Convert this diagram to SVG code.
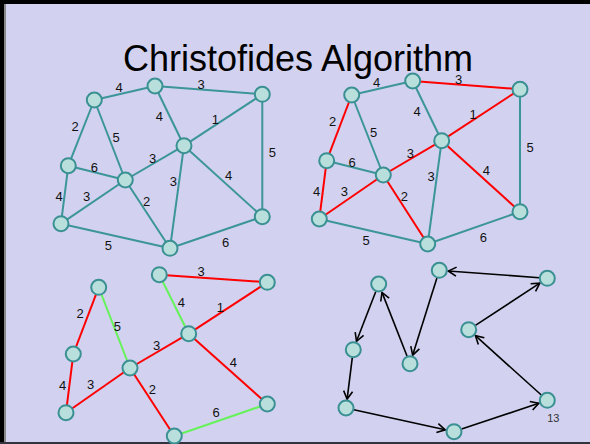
<svg xmlns="http://www.w3.org/2000/svg" width="590" height="444" viewBox="0 0 590 444">
<style>
.bg{fill:#D2D2F0}
.n{fill:#B8DFDC;stroke:#3A9093;stroke-width:2}
.e{stroke:#3C9598;stroke-width:2;fill:none}
.r{stroke:#FF0000;stroke-width:2;fill:none}
.g{stroke:#66F25A;stroke-width:2;fill:none}
.a{stroke:#000;stroke-width:1.6;fill:none;marker-end:url(#arr)}
.l{font-family:"Liberation Sans",Arial,sans-serif;font-size:13px;fill:#111;text-anchor:middle;dominant-baseline:central}
.t{font-family:"Liberation Sans",Arial,sans-serif;font-size:36px;fill:#000;text-anchor:middle}
</style>
<defs>
<marker id="arr" markerUnits="userSpaceOnUse" markerWidth="12" markerHeight="12" refX="10" refY="6" orient="auto">
<path d="M2,1.5 L10,6 L2,10.5" fill="none" stroke="#000" stroke-width="1.6"/>
</marker>
</defs>
<rect class="bg" x="0" y="0" width="590" height="444"/>
<rect x="0" y="0" width="590" height="4" fill="#000"/>
<rect x="0" y="0" width="4" height="444" fill="#000"/>
<rect x="4" y="4" width="2" height="440" fill="#888"/>
<rect x="0" y="442" width="590" height="2" fill="#333340"/>
<text class="t" x="298" y="71">Christofides Algorithm</text>

<g id="connectors">
<!-- graph 1 -->
<line class="e" x1="94.3" y1="100" x2="155" y2="86"/>
<line class="e" x1="155" y1="86" x2="262.3" y2="94.3"/>
<line class="e" x1="94.3" y1="100" x2="68.3" y2="165.7"/>
<line class="e" x1="94.3" y1="100" x2="125.3" y2="180"/>
<line class="e" x1="155" y1="86" x2="184" y2="145.7"/>
<line class="e" x1="262.3" y1="94.3" x2="184" y2="145.7"/>
<line class="e" x1="262.3" y1="94.3" x2="262.3" y2="216.7"/>
<line class="e" x1="68.3" y1="165.7" x2="125.3" y2="180"/>
<line class="e" x1="68.3" y1="165.7" x2="61" y2="223.7"/>
<line class="e" x1="61" y1="223.7" x2="125.3" y2="180"/>
<line class="e" x1="125.3" y1="180" x2="184" y2="145.7"/>
<line class="e" x1="125.3" y1="180" x2="170" y2="248.3"/>
<line class="e" x1="184" y1="145.7" x2="170" y2="248.3"/>
<line class="e" x1="184" y1="145.7" x2="262.3" y2="216.7"/>
<line class="e" x1="61" y1="223.7" x2="170" y2="248.3"/>
<line class="e" x1="170" y1="248.3" x2="262.3" y2="216.7"/>
<!-- graph 2 -->
<line class="e" x1="351.7" y1="95" x2="412.7" y2="81"/>
<line class="r" x1="412.7" y1="81" x2="520" y2="89.3"/>
<line class="r" x1="351.7" y1="95" x2="326.7" y2="160.7"/>
<line class="e" x1="351.7" y1="95" x2="383.3" y2="175"/>
<line class="e" x1="412.7" y1="81" x2="441.7" y2="140.7"/>
<line class="r" x1="520" y1="89.3" x2="441.7" y2="140.7"/>
<line class="e" x1="520" y1="89.3" x2="520" y2="211.7"/>
<line class="e" x1="326.7" y1="160.7" x2="383.3" y2="175"/>
<line class="r" x1="326.7" y1="160.7" x2="319.3" y2="219"/>
<line class="r" x1="319.3" y1="219" x2="383.3" y2="175"/>
<line class="r" x1="383.3" y1="175" x2="441.7" y2="140.7"/>
<line class="r" x1="383.3" y1="175" x2="427.7" y2="244"/>
<line class="e" x1="441.7" y1="140.7" x2="427.7" y2="244"/>
<line class="r" x1="441.7" y1="140.7" x2="520" y2="211.7"/>
<line class="e" x1="319.3" y1="219" x2="427.7" y2="244"/>
<line class="e" x1="427.7" y1="244" x2="520" y2="211.7"/>
<!-- graph 3 -->
<line class="r" x1="159.3" y1="274.7" x2="267.3" y2="282.3"/>
<line class="g" x1="159.3" y1="274.7" x2="188.7" y2="333.7"/>
<line class="r" x1="267.3" y1="282.3" x2="188.7" y2="333.7"/>
<line class="r" x1="98.7" y1="287.3" x2="73.3" y2="354"/>
<line class="g" x1="98.7" y1="287.3" x2="130" y2="368"/>
<line class="r" x1="73.3" y1="354" x2="66" y2="412.7"/>
<line class="r" x1="66" y1="412.7" x2="130" y2="368"/>
<line class="r" x1="130" y1="368" x2="188.7" y2="333.7"/>
<line class="r" x1="130" y1="368" x2="174.3" y2="436"/>
<line class="r" x1="188.7" y1="333.7" x2="267.3" y2="404"/>
<line class="g" x1="174.3" y1="436" x2="267.3" y2="404"/>
<!-- graph 4 tour -->
<line class="a" x1="375.8" y1="291.5" x2="356.5" y2="341.3"/>
<line class="a" x1="352.3" y1="357.6" x2="347.1" y2="399.1"/>
<line class="a" x1="353.8" y1="409.7" x2="445.2" y2="429.8"/>
<line class="a" x1="461.6" y1="429.1" x2="538.8" y2="403.2"/>
<line class="a" x1="541.3" y1="395" x2="475.4" y2="335.7"/>
<line class="a" x1="475.4" y1="325.3" x2="539.8" y2="283.2"/>
<line class="a" x1="539.3" y1="277.7" x2="448.3" y2="271"/>
<line class="a" x1="436.9" y1="277.9" x2="412.7" y2="355.1"/>
<line class="a" x1="407.1" y1="356.3" x2="382" y2="292.4"/>
</g>

<g id="labels">
<text class="l" x="119" y="87.3">4</text>
<text class="l" x="201" y="84">3</text>
<text class="l" x="75" y="126">2</text>
<text class="l" x="116" y="137.7">5</text>
<text class="l" x="159.3" y="116.7">4</text>
<text class="l" x="215.3" y="119.3">1</text>
<text class="l" x="272.3" y="152.3">5</text>
<text class="l" x="152.7" y="158.3">3</text>
<text class="l" x="94.3" y="167.7">6</text>
<text class="l" x="228.7" y="175.3">4</text>
<text class="l" x="173.3" y="181.7">3</text>
<text class="l" x="86.7" y="196">3</text>
<text class="l" x="59" y="196.7">4</text>
<text class="l" x="146.7" y="201.3">2</text>
<text class="l" x="108.3" y="245.7">5</text>
<text class="l" x="225.7" y="242.7">6</text>

<text class="l" x="376.7" y="82.3">4</text>
<text class="l" x="458.7" y="79">3</text>
<text class="l" x="332.7" y="121">2</text>
<text class="l" x="373.7" y="132.7">5</text>
<text class="l" x="417" y="111.7">4</text>
<text class="l" x="473" y="114.3">1</text>
<text class="l" x="530" y="147.3">5</text>
<text class="l" x="410.4" y="153.3">3</text>
<text class="l" x="352" y="162.7">6</text>
<text class="l" x="486.4" y="170.3">4</text>
<text class="l" x="431" y="176.7">3</text>
<text class="l" x="344.4" y="191">3</text>
<text class="l" x="316.7" y="191.7">4</text>
<text class="l" x="404.4" y="196.3">2</text>
<text class="l" x="366" y="240.7">5</text>
<text class="l" x="483.4" y="237.7">6</text>

<text class="l" x="201" y="271.7">3</text>
<text class="l" x="181.3" y="302.7">4</text>
<text class="l" x="220.3" y="307">1</text>
<text class="l" x="80" y="313.3">2</text>
<text class="l" x="117.3" y="326.7">5</text>
<text class="l" x="156.7" y="345.7">3</text>
<text class="l" x="233.3" y="362.3">4</text>
<text class="l" x="90.7" y="384">3</text>
<text class="l" x="62.7" y="385">4</text>
<text class="l" x="152.3" y="389.3">2</text>
<text class="l" x="216" y="412.7">6</text>

<text class="l" x="553.3" y="417.7" style="font-size:11px;fill:#333">13</text>
</g>

<g id="g1-nodes">
<circle id="n1a" class="n" cx="94.3" cy="100" r="7.5"/>
<circle id="n1b" class="n" cx="155" cy="86" r="7.5"/>
<circle id="n1c" class="n" cx="262.3" cy="94.3" r="7.5"/>
<circle id="n1d" class="n" cx="184" cy="145.7" r="7.5"/>
<circle id="n1e" class="n" cx="68.3" cy="165.7" r="7.5"/>
<circle id="n1f" class="n" cx="125.3" cy="180" r="7.5"/>
<circle id="n1g" class="n" cx="61" cy="223.7" r="7.5"/>
<circle id="n1h" class="n" cx="170" cy="248.3" r="7.5"/>
<circle id="n1i" class="n" cx="262.3" cy="216.7" r="7.5"/>
</g>
<g id="g2-nodes">
<circle id="n2a" class="n" cx="351.7" cy="95" r="7.5"/>
<circle id="n2b" class="n" cx="412.7" cy="81" r="7.5"/>
<circle id="n2c" class="n" cx="520" cy="89.3" r="7.5"/>
<circle id="n2d" class="n" cx="441.7" cy="140.7" r="7.5"/>
<circle id="n2e" class="n" cx="326.7" cy="160.7" r="7.5"/>
<circle id="n2f" class="n" cx="383.3" cy="175" r="7.5"/>
<circle id="n2g" class="n" cx="319.3" cy="219" r="7.5"/>
<circle id="n2h" class="n" cx="427.7" cy="244" r="7.5"/>
<circle id="n2i" class="n" cx="520" cy="211.7" r="7.5"/>
</g>
<g id="g3-nodes">
<circle id="n3a" class="n" cx="98.7" cy="287.3" r="7.5"/>
<circle id="n3b" class="n" cx="159.3" cy="274.7" r="7.5"/>
<circle id="n3c" class="n" cx="267.3" cy="282.3" r="7.5"/>
<circle id="n3d" class="n" cx="188.7" cy="333.7" r="7.5"/>
<circle id="n3e" class="n" cx="73.3" cy="354" r="7.5"/>
<circle id="n3f" class="n" cx="130" cy="368" r="7.5"/>
<circle id="n3g" class="n" cx="66" cy="412.7" r="7.5"/>
<circle id="n3h" class="n" cx="174.3" cy="436" r="7.5"/>
<circle id="n3i" class="n" cx="267.3" cy="404" r="7.5"/>
</g>
<g id="g4-nodes">
<circle id="n4a" class="n" cx="378.7" cy="284" r="7.5"/>
<circle id="n4b" class="n" cx="439.3" cy="270.3" r="7.5"/>
<circle id="n4c" class="n" cx="547.3" cy="278.3" r="7.5"/>
<circle id="n4d" class="n" cx="468.7" cy="329.7" r="7.5"/>
<circle id="n4e" class="n" cx="353.3" cy="349.7" r="7.5"/>
<circle id="n4f" class="n" cx="410" cy="363.7" r="7.5"/>
<circle id="n4g" class="n" cx="346" cy="408" r="7.5"/>
<circle id="n4h" class="n" cx="454" cy="431.7" r="7.5"/>
<circle id="n4i" class="n" cx="547.3" cy="400.3" r="7.5"/>
</g>
</svg>
